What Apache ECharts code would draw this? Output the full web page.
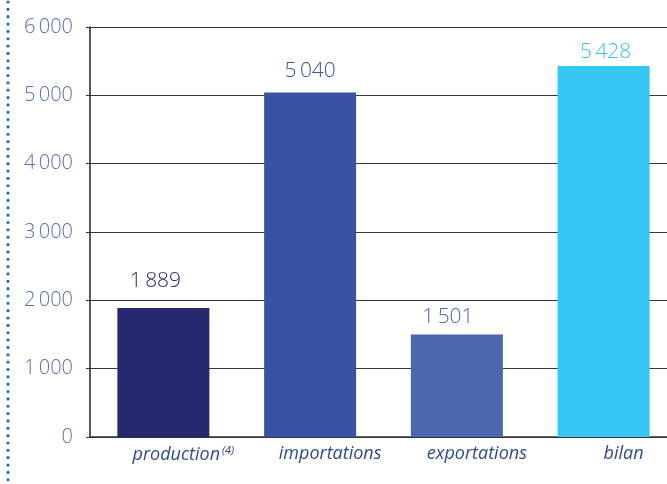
<!DOCTYPE html>
<html><head><meta charset="utf-8">
<script src="https://cdn.jsdelivr.net/npm/echarts@6/dist/echarts.min.js"></script>
<style>html,body{margin:0;padding:0;background:#fff}#c{width:667px;height:484px}</style>
</head><body><div id="c"></div>
<script>
const categories = ['production', 'importations', 'exportations', 'bilan'];
const values = [1889, 5040, 1501, 5428];
const barColors = ['#262870', '#3953a4', '#4a67b0', '#36c6f3'];
const yTicks = [0, 1000, 2000, 3000, 4000, 5000, 6000];
const labelDistance = [16, 11, 7, 4];
const labelShift = [-8, 0, -9, 2];

function fmt(v) {
  const s = String(v);
  return s.length > 3 ? s.slice(0, s.length - 3) + '\u2009' + s.slice(-3) : s;
}

const chart = echarts.init(document.getElementById('c'), null, {renderer: 'canvas'});
chart.setOption({
  animation: false,
  grid: {left: 90, width: 587, top: 27, height: 410, outerBoundsMode: 'none', containLabel: false},
  graphic: [{
    type: 'line',
    shape: {x1: 8, y1: 2, x2: 8, y2: 484},
    style: {stroke: '#1a6fb5', lineWidth: 3.2, lineDash: [0, 7.35], lineCap: 'round'}
  }],
  xAxis: {
    type: 'category',
    data: categories,
    axisLine: {lineStyle: {color: '#333', width: 1.5}},
    axisTick: {show: false},
    axisLabel: {
      interval: 0,
      margin: 8,
      color: '#2f4a93',
      fontFamily: 'Open Sans',
      fontSize: 18,
      fontStyle: 'italic',
      formatter: function (v, i) {
        return i === 0 ? v + '{sup|\u2009(4)}' : v;
      },
      rich: {
        sup: {fontSize: 11, fontStyle: 'italic', color: '#2f4a93', fontFamily: 'Open Sans', verticalAlign: 'top', padding: [0, 0, 9, 0]}
      },
      padding: [0, 0, 0, 40]
    }
  },
  yAxis: {
    type: 'value',
    min: 0, max: 6000, interval: 1000,
    axisLine: {show: true, lineStyle: {color: '#222', width: 1.5}},
    axisTick: {show: true, length: 4, lineStyle: {color: '#333'}},
    splitLine: {lineStyle: {color: '#3a3a3a', width: 1}},
    axisLabel: {
      margin: 17,
      color: '#5b6fb3',
      fontFamily: 'Open Sans',
      fontWeight: 300,
      fontSize: 20,
      formatter: function (v) { return yTicks.indexOf(v) >= 0 ? fmt(v) : ''; }
    }
  },
  series: [{
    type: 'bar',
    barWidth: 92,
    data: values.map((v, i) => ({
      value: v,
      itemStyle: {color: barColors[i]},
      label: {color: barColors[i], distance: labelDistance[i], offset: [labelShift[i], 0]}
    })),
    label: {
      show: true,
      position: 'top',
      fontFamily: 'Open Sans',
      fontWeight: 300,
      fontSize: 21,
      formatter: p => fmt(p.value)
    }
  }]
});
</script></body></html>
